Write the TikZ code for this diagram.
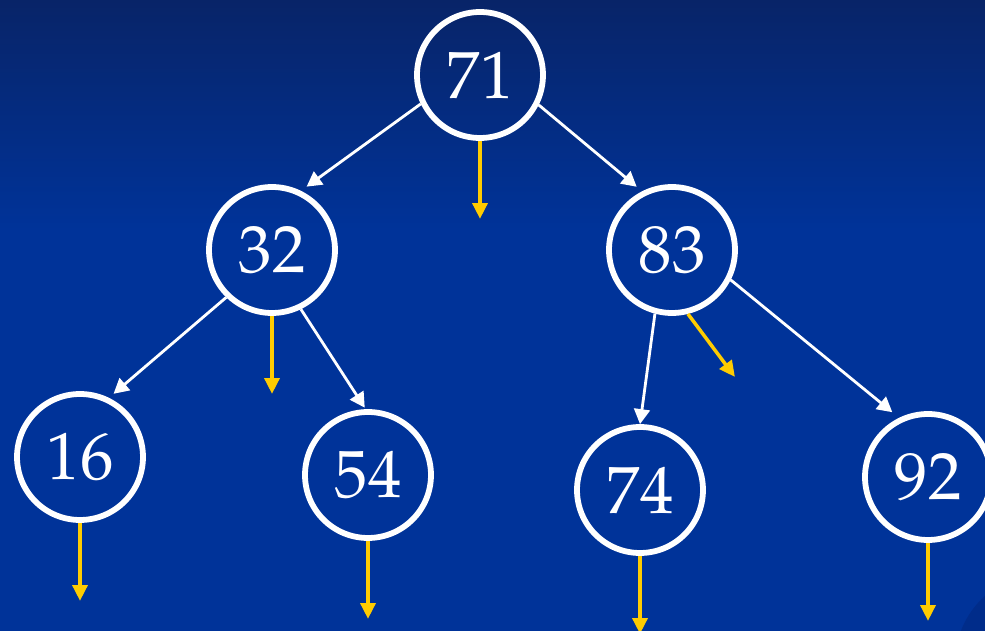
\documentclass[tikz,border=0pt]{standalone}
\usepackage[T1]{fontenc}
\usepackage{tikz}
\usetikzlibrary{arrows.meta}
\definecolor{bgblue}{RGB}{0,51,153}
\definecolor{bgtop}{RGB}{8,36,104}
\definecolor{bgshadow}{RGB}{0,44,138}
\definecolor{nilyellow}{RGB}{255,204,0}
\tikzset{
  key/.style={circle,draw=white,line width=3.3pt,minimum size=2.52cm,
    inner sep=0pt,text=white,font=\fontfamily{ppl}\selectfont\fontsize{38}{42}\selectfont},
  link/.style={draw=white,line width=1.6pt,-{Triangle[width=9pt,length=8.5pt]}},
  nil/.style={draw=nilyellow,line width=2pt,-{Triangle[width=8.5pt,length=9pt]}}
}

\begin{document}
\begin{tikzpicture}[x=0.02cm,y=-0.02cm]
  % background
  \useasboundingbox (0,0) rectangle (985,631);
  \clip (0,0) rectangle (985,631);
  \fill[bgblue] (0,0) rectangle (985,631);
  \shade[top color=bgtop,bottom color=bgblue] (0,0) rectangle (985,230);
  \fill[bgshadow] (1045,663) circle (90);
  % keys of the tree
  \node[key] (n71) at (480,75) {71};
  \node[key] (n32) at (272,250) {32};
  \node[key] (n83) at (672,250) {83};
  \node[key] (n16) at (80,457) {16};
  \node[key] (n54) at (368,475) {54};
  \node[key] (n74) at (640,490) {74};
  \node[key] (n92) at (928,477) {92};
  % child links
  \draw[link,shorten >=4pt] (n71.206) -- (n32.64);
  \draw[link,shorten >=4pt] (n71.333) -- (n83.117);
  \draw[link,shorten >=3.5pt] (n32.226) -- (n16.64);
  \draw[link,shorten >=1pt] (n32.296) -- (n54.92);
  \draw[link] (n83.255) -- (n74.90);
  \draw[link,shorten >=5pt] (n83.333) -- (n92.116);
  % empty links
  \draw[nil] (n71.south) -- +(0,78);
  \draw[nil] (n32.south) -- +(0,78);
  \draw[nil] (n83.284) -- +(47,63);
  \draw[nil] (n16.south) -- +(0,78);
  \draw[nil] (n54.south) -- +(0,78);
  \draw[nil] (n74.south) -- +(0,78);
  \draw[nil] (n92.south) -- +(0,78);
\end{tikzpicture}
\end{document}
